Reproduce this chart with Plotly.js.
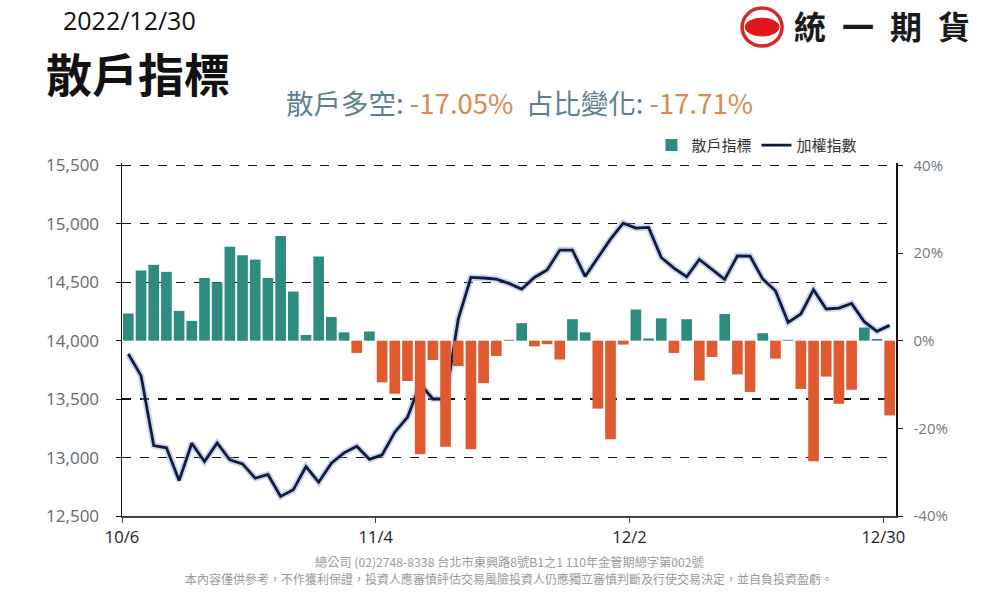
<!DOCTYPE html>
<html>
<head>
<meta charset="utf-8">
<script src="https://cdn.plot.ly/plotly-3.0.1.min.js"></script>
<style>
html,body{margin:0;padding:0;background:#fff;}
#chart{width:987px;height:598px;}
</style>
</head>
<body>
<div id="chart"></div>
<script>
// ---- data ----
const dateLabels = ['10/6','11/4','12/2','12/30'];
const dateTickIndex = [0, 20, 40, 60];
const leftTicks = [12500, 13000, 13500, 14000, 14500, 15000, 15500];
const rightTicks = [-40, -20, 0, 20, 40];
const rightTickLabels = ['-40%', '-20%', '0%', '20%', '40%'];
const retailIndicator = [
  6.2, 16.0, 17.3, 15.7, 6.8, 4.5, 14.3, 13.3, 21.4, 19.5,
  18.5, 14.3, 23.9, 11.2, 1.3, 19.2, 5.4, 1.9, -2.8, 2.1,
  -9.5, -12.1, -9.2, -25.9, -4.4, -24.2, -5.8, -24.8, -9.7, -3.5,
  0.2, 4.0, -1.3, -0.8, -4.3, 4.9, 1.9, -15.5, -22.5, -0.9,
  7.1, 0.5, 5.1, -2.8, 4.9, -9.1, -3.7, 6.1, -7.7, -11.7,
  1.7, -4.1, 0.2, -11.0, -27.5, -8.2, -14.4, -11.2, 3.0, 0.4,
  -17.05
];
const taiex = [
  13886, 13701, 13103, 13083, 12803, 13123, 12966, 13125, 12980, 12946,
  12823, 12855, 12667, 12724, 12923, 12789, 12952, 13040, 13097, 12985,
  13023, 13217, 13345, 13630, 13501, 13501, 14185, 14541, 14536, 14527,
  14490, 14442, 14541, 14604, 14775, 14775, 14550, 14712, 14869, 15006,
  14963, 14969, 14712, 14621, 14547, 14695, 14613, 14524, 14726, 14724,
  14527, 14427, 14157, 14228, 14436, 14271, 14279, 14319, 14162, 14080,
  14131
];
const seriesNames = ['散戶指標', '加權指數'];

// ---- styles ----
const TEAL = '#2E8B7F';
const ORANGE = '#E1592E';
const NAVY = '#111B3D';
const FONT = '"Open Sans", "Noto Sans CJK TC", sans-serif';
const CJK = '"Noto Sans CJK TC", "Open Sans", sans-serif';

const idx = retailIndicator.map((_, i) => i);
const tickPos = dateTickIndex.map(i => i - 0.5);

const traces = [
  {
    type: 'bar', name: seriesNames[0], x: idx, y: retailIndicator, yaxis: 'y2',
    marker: { color: retailIndicator.map(v => v >= 0 ? TEAL : ORANGE) },
    hoverinfo: 'skip'
  },
  {
    type: 'scatter', mode: 'lines', x: idx, y: taiex, yaxis: 'y', showlegend: false,
    line: { color: 'rgba(140,165,220,0.45)', width: 6.5 }, hoverinfo: 'skip'
  },
  {
    type: 'scatter', mode: 'lines', name: seriesNames[1], x: idx, y: taiex, yaxis: 'y',
    line: { color: NAVY, width: 2.8 }
  }
];

// extend the top slightly so the 15,500 dashed gridline is drawn
const yTop = 15520;
const yBottom = 12500;
const zeroFrac = (14000 - yBottom) / (yTop - yBottom);
const y2Top = 40 / zeroFrac - 40;

const layout = {
  width: 987, height: 598,
  margin: { l: 122, r: 91, t: 163, b: 82 },
  paper_bgcolor: '#fff', plot_bgcolor: '#fff',
  font: { family: FONT, color: '#333' },
  bargap: 0.16,
  showlegend: true,
  legend: {
    orientation: 'h', x: 0.684, xanchor: 'left', y: 1.05, yanchor: 'middle',
    font: { family: CJK, size: 15, color: '#333' }, traceorder: 'normal',
    itemwidth: 30, bgcolor: 'rgba(0,0,0,0)'
  },
  xaxis: {
    range: [-0.5, 60.5], tickmode: 'array', tickvals: tickPos, ticktext: dateLabels,
    showgrid: false, zeroline: false, showline: true, linecolor: '#444', linewidth: 2,
    ticks: 'outside', ticklen: 5, tickcolor: '#444',
    tickfont: { family: FONT, size: 16.5, color: '#222' }
  },
  yaxis: {
    range: [yBottom, yTop], tickmode: 'array', tickvals: leftTicks,
    tickformat: ',', side: 'left',
    showgrid: true, gridcolor: '#111', griddash: 'dash', gridwidth: 1.3,
    zeroline: false, showline: true, linecolor: '#111', linewidth: 1.5,
    ticks: 'outside', ticklen: 5, tickcolor: '#111', ticklabelstandoff: 13,
    tickfont: { family: FONT, size: 17, color: '#5f6a72' }
  },
  yaxis2: {
    range: [-40, y2Top], tickmode: 'array', tickvals: rightTicks, ticktext: rightTickLabels,
    overlaying: 'y', side: 'right',
    showgrid: false, zeroline: true, zerolinecolor: '#ffffff', zerolinewidth: 3,
    showline: true, linecolor: '#111', linewidth: 1.5,
    ticks: 'outside', ticklen: 5, tickcolor: '#111', ticklabelstandoff: 8,
    tickfont: { family: FONT, size: 15, color: '#6f7a82' }
  },
  annotations: [
    { text: '2022/12/30', xref: 'paper', yref: 'paper', x: 0.0103, y: 1.405,
      xanchor: 'center', yanchor: 'middle', showarrow: false,
      font: { family: FONT, size: 25, color: '#111' } },
    { text: '<b>散戶指標</b>', xref: 'paper', yref: 'paper', x: 0.0213, y: 1.258,
      xanchor: 'center', yanchor: 'middle', showarrow: false,
      font: { family: CJK, size: 46, color: '#111' } },
    { text: '散戶多空: <span style="color:#D98A4F">-17.05%</span>  占比變化: <span style="color:#D98A4F">-17.71%</span>',
      xref: 'paper', yref: 'paper', x: 0.513, y: 1.173,
      xanchor: 'center', yanchor: 'middle', showarrow: false,
      font: { family: CJK, size: 27.5, color: '#5E7F92' } },
    { text: '<b>統\u2002一\u2002期\u2002貨</b>', xref: 'paper', yref: 'paper', x: 0.982, y: 1.391,
      xanchor: 'center', yanchor: 'middle', showarrow: false,
      font: { family: CJK, size: 32, color: '#1a1a1a' } },
    { text: '總公司 (02)2748-8338 台北市東興路8號B1之1 110年金管期總字第002號',
      xref: 'paper', yref: 'paper', x: 0.5, y: -0.131,
      xanchor: 'center', yanchor: 'middle', showarrow: false,
      font: { family: CJK, size: 12.2, color: '#9a9a9a' } },
    { text: '本內容僅供參考，不作獲利保證，投資人應審慎評估交易風險投資人仍應獨立審慎判斷及行使交易決定，並自負投資盈虧。',
      xref: 'paper', yref: 'paper', x: 0.5, y: -0.178,
      xanchor: 'center', yanchor: 'middle', showarrow: false,
      font: { family: CJK, size: 12, color: '#9a9a9a' } }
  ],
  shapes: [
    { type: 'circle', xref: 'paper', yref: 'paper', xsizemode: 'pixel', ysizemode: 'pixel',
      xanchor: 0.827, yanchor: 1.385, x0: -20, x1: 20, y0: -19, y1: 19,
      line: { color: '#D8282A', width: 3.5 }, fillcolor: 'rgba(0,0,0,0)' },
    { type: 'circle', xref: 'paper', yref: 'paper', xsizemode: 'pixel', ysizemode: 'pixel',
      xanchor: 0.827, yanchor: 1.385, x0: -17, x1: 17, y0: -9, y1: 9,
      line: { color: '#D8282A', width: 1 }, fillcolor: '#E3161C' }
  ]
};

Plotly.newPlot('chart', traces, layout, { displayModeBar: false, staticPlot: true });
</script>
</body>
</html>
